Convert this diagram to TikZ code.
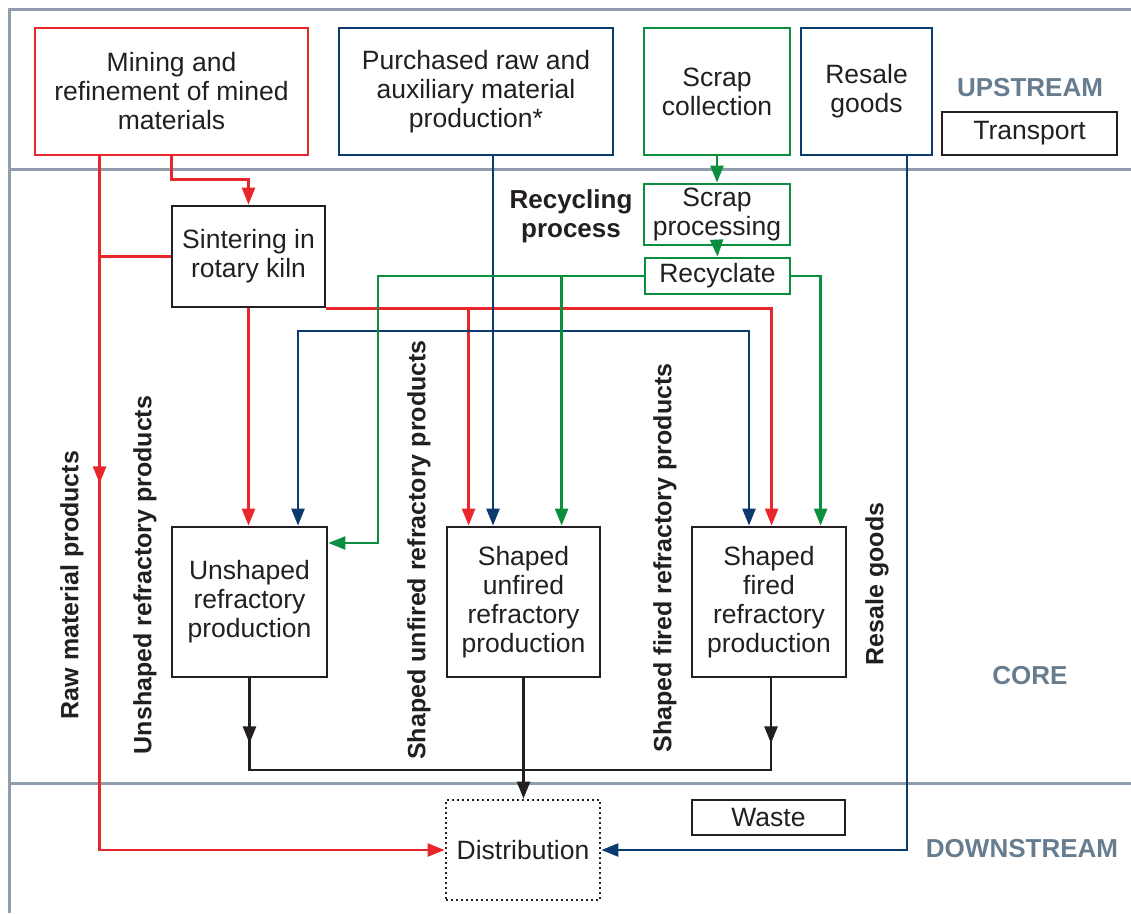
\documentclass[tikz,border=0pt]{standalone}
\usepackage{fontspec}
\setmainfont{Liberation Sans}
\usetikzlibrary{arrows.meta,calc}
\definecolor{cred}{HTML}{E8262B}
\definecolor{cblue}{HTML}{0B3A6E}
\definecolor{cgreen}{HTML}{0A8F3F}
\definecolor{cgrey}{HTML}{8F9DAD}
\definecolor{clabel}{HTML}{677D8F}
\definecolor{cink}{HTML}{231F20}
\begin{document}
\begin{tikzpicture}[x=1pt,y=-1pt,
 box/.style={draw=cink, line width=2.8pt, align=center, inner sep=0pt, text=cink, font=\fontsize{26.5}{29}\selectfont},
 conn/.style={line width=2.5pt},
 arr/.style={conn,-{Triangle[length=17pt,width=13pt]}},
 rot/.style={rotate=90, font=\bfseries\fontsize{25}{29}\selectfont, text=cink, inner sep=0pt},
 zone/.style={font=\bfseries\fontsize{26}{29}\selectfont, text=clabel, inner sep=0pt},
 frameline/.style={draw=cgrey, line width=3pt}]
\useasboundingbox (0,0) rectangle (1131,913);
% frame
\draw[frameline] (1131,9) -- (9,9) -- (9,913);
\draw[frameline] (9,169) -- (1131,169);
\draw[frameline] (9,783) -- (1131,783);
% upstream boxes
\node[box, draw=cred, minimum width=273, minimum height=127] (mine) at (171.5,91.5) {Mining and\\refinement of mined\\materials};
\node[box, draw=cblue, minimum width=274, minimum height=127] (purch) at (476,91.5) {Purchased raw and\\auxiliary material\\production*};
\node[box, draw=cgreen, minimum width=146, minimum height=127] (scol) at (717,91.5) {Scrap\\collection};
\node[box, draw=cblue, minimum width=131, minimum height=127] (resale) at (866.5,91.5) {Resale\\goods};
\node[box, minimum width=175, minimum height=43] (transport) at (1029.5,133.5) {Transport};
\node[zone] (up) at (1030,88) {UPSTREAM};
% core
\node[box, minimum width=153, minimum height=101] (sinter) at (248.5,256.5) {Sintering in\\rotary kiln};
\node[box, draw=cgreen, minimum width=146, minimum height=61] (sproc) at (717,214.5) {Scrap\\processing};
\node[box, draw=cgreen, minimum width=145, minimum height=36] (recy) at (717.5,276) {Recyclate};
\node[font=\bfseries\fontsize{26}{29}\selectfont, text=cink, align=center, inner sep=0pt] (rp) at (571,216) {Recycling\\process};
\node[box, minimum width=155, minimum height=150] (unsh) at (249.5,602) {Unshaped\\refractory\\production};
\node[box, minimum width=153, minimum height=150] (suf) at (523.5,602) {Shaped\\unfired\\refractory\\production};
\node[box, minimum width=154, minimum height=150] (sf) at (769,602) {Shaped\\fired\\refractory\\production};
\node[zone] (core) at (1030,676) {CORE};
% downstream
\node[box, dash pattern=on 2pt off 3pt, minimum width=154, minimum height=100] (dist) at (523,850) {Distribution};
\node[box, minimum width=153, minimum height=35] (waste) at (768.5,817.5) {Waste};
\node[zone] (down) at (1022,849) {DOWNSTREAM};
% rotated labels
\node[rot] (lraw) at (72,585) {Raw material products};
\node[rot] (lun) at (145,575) {Unshaped refractory products};
\node[rot] (lsuf) at (419,550) {Shaped unfired refractory products};
\node[rot] (lsf) at (665,558) {Shaped fired refractory products};
\node[rot] (lres) at (877,584) {Resale goods};
% coordinates
\coordinate (rx) at ([xshift=66pt]mine.south west);
\coordinate (bj) at ([xshift=17pt]purch.south |- 0,331);
\coordinate (gL) at (378,543);
\coordinate (bk) at (suf.south |- 0,770);
% red
\draw[arr, cred] (mine.south) -- ++(0,23) -| (sinter.north);
\draw[arr, cred] (rx) -- ++(0,327);
\draw[arr, cred] (rx) |- (dist.west);
\draw[conn, cred] (sinter.west) -- (sinter.west -| rx);
\draw[arr, cred] (sinter.south) -- (sinter.south |- unsh.north);
\draw[arr, cred] (sinter.south east) -| ([xshift=81pt]sf.north west);
\draw[arr, cred] ([xshift=23pt]suf.north west |- sinter.south east) -- ([xshift=23pt]suf.north west);
% blue
\draw[arr, cblue] ([xshift=17pt]purch.south) -- ([xshift=17pt]purch.south |- suf.north);
\draw[arr, cblue] (bj) -| ([xshift=48.5pt]unsh.north);
\draw[arr, cblue] (bj) -| ([xshift=-20pt]sf.north);
\draw[arr, cblue] ([xshift=40.5pt]resale.south) |- (dist.east);
% green
\draw[arr, cgreen] (scol.south) -- (sproc.north);
\draw[arr, cgreen] (sproc.south) -- (recy.north);
\draw[arr, cgreen] (recy.west) -| (gL) -- (gL -| unsh.east);
\draw[arr, cgreen] ([xshift=116pt]suf.north west |- recy.west) -- ([xshift=116pt]suf.north west);
\draw[arr, cgreen] (recy.east) -| ([xshift=130pt]sf.north west);
% black
\draw[conn, cink] (unsh.south) |- (bk) -| ([xshift=2pt]sf.south);
\draw[arr, cink] (unsh.south) -- ++(0,65);
\draw[arr, cink] ([xshift=2pt]sf.south) -- ++(0,65);
\draw[arr, cink] (suf.south) -- (suf.south |- dist.north);
\end{tikzpicture}
\end{document}
